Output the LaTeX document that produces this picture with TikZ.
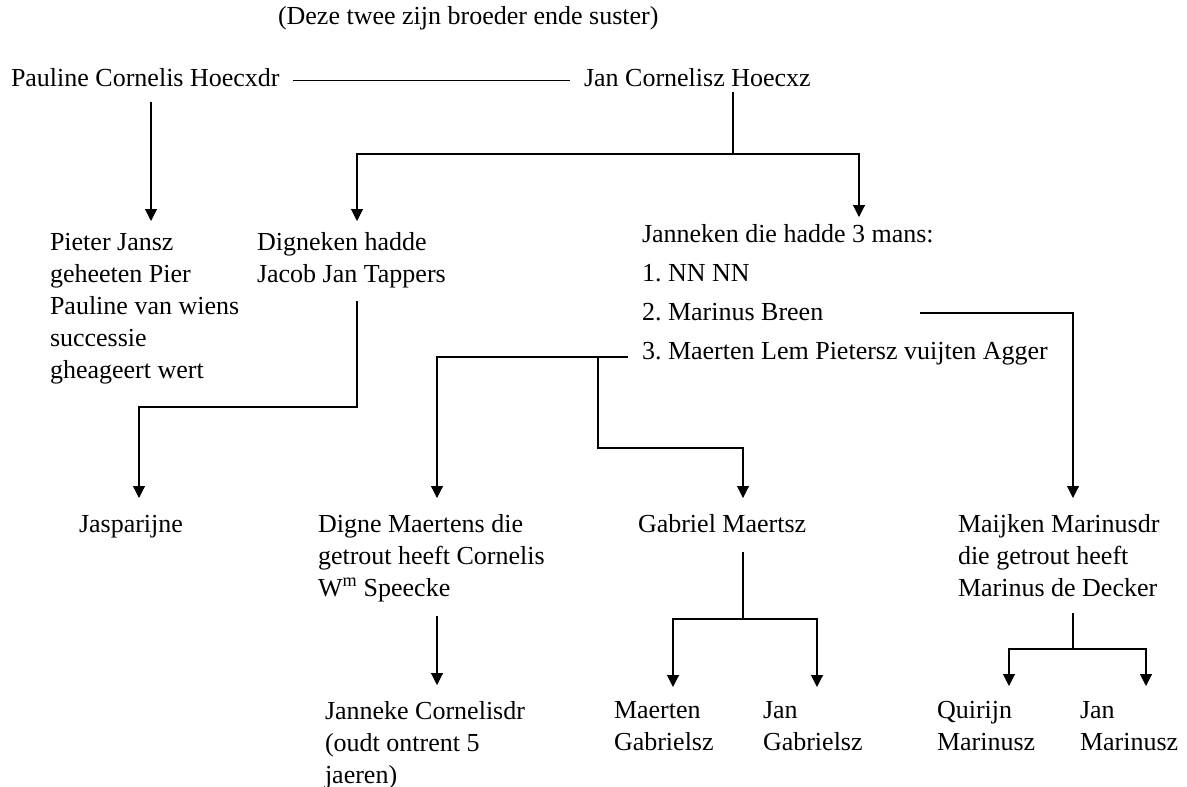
\documentclass[tikz,border=0pt]{standalone}
\usepackage{fontspec}
\setmainfont{Liberation Serif}
\usetikzlibrary{arrows.meta,calc}
\newcommand{\lns}[1]{\begin{tabular}[t]{@{}l@{}}#1\end{tabular}}
\frenchspacing
\tikzset{
  txt/.style={inner sep=0pt, outer sep=0pt, anchor=base west, font=\fontsize{26}{32}\selectfont\frenchspacing},
  ln/.style={line width=1.1pt, black},
  arr/.style={ln, -{Triangle[width=12pt,length=12pt]}},
}
\begin{document}
\begin{tikzpicture}[x=1pt,y=-1pt]
\fill[white] (0,0) rectangle (1187,787);
\useasboundingbox (0,0) rectangle (1187,787);
% nodes
\node[txt] (title) at (278,24) {\lns{(Deze twee zijn broeder ende suster)}};
\node[txt] (pauline) at (11,86) {\lns{Pauline Cornelis Hoecxdr}};
\node[txt] (jan) at (584,86) {\lns{Jan Cornelisz Hoecxz}};
\node[txt] (pieter) at (50,250) {\lns{Pieter Jansz\\geheeten Pier\\Pauline van wiens\\successie\\gheageert wert}};
\node[txt] (digneken) at (257,250) {\lns{Digneken hadde\\Jacob Jan Tappers}};
\node[txt] (janneken) at (642,242) {\lns{Janneken die hadde 3 mans:\\[7.3pt]1. NN NN\\[7.3pt]2. Marinus Breen\\[7.3pt]3. Maerten Lem Pietersz vuijten Agger}};
\node[txt] (jasp) at (79,532) {\lns{Jasparijne}};
\node[txt] (digne) at (318,532) {\lns{Digne Maertens die\\getrout heeft Cornelis\\W\textsuperscript{m} Speecke}};
\node[txt] (gabriel) at (638,532) {\lns{Gabriel Maertsz}};
\node[txt] (maijken) at (958,532) {\lns{Maijken Marinusdr\\die getrout heeft\\Marinus de Decker}};
\node[txt] (janneke) at (325,719) {\lns{Janneke Cornelisdr\\(oudt ontrent 5\\jaeren)}};
\node[txt] (maerten) at (614,718) {\lns{Maerten\\Gabrielsz}};
\node[txt] (jang) at (763,718) {\lns{Jan\\Gabrielsz}};
\node[txt] (quirijn) at (937,718) {\lns{Quirijn\\Marinusz}};
\node[txt] (janm) at (1080,718) {\lns{Jan\\Marinusz}};
% helper coordinates
\coordinate (xPa) at (151,0);
\coordinate (jb) at (733,154);
\coordinate (xDk) at (357,0);
\coordinate (xJk) at (859,0);
\coordinate (dkb) at (357,407);
\coordinate (xJa) at (139,0);
\coordinate (xMk) at (1073,0);
\coordinate (xDg) at (437,0);
\coordinate (br) at (598,357);
\coordinate (brb) at (598,448);
\coordinate (xGa) at (743,0);
\coordinate (gj) at (743,619);
\coordinate (xMa) at (673,0);
\coordinate (xJg) at (817,0);
\coordinate (mj) at (1073,649);
\coordinate (xQu) at (1009,0);
\coordinate (xJm) at (1146,0);
% connectors
\draw[ln] ($(pauline.east)+(13,0.6)$) -- ($(jan.west)+(-14,0.6)$);
\draw[arr] ($(pauline.south -| xPa)+(0,6)$) -- ($(pieter.north -| xPa)+(0,-6.6)$);
\draw[ln] ($(jan.south -| jb)+(0,-4)$) -- (jb);
\draw[arr] (jb) -| ($(digneken.north -| xDk)+(0,-6.6)$);
\draw[arr] (jb) -| ($(janneken.north -| xJk)+(0,-2.6)$);
\draw[arr] ($(digneken.south -| xDk)+(0,9.4)$) -- (dkb) -| ($(jasp.north -| xJa)+(0,-11.6)$);
\draw[arr] ($(janneken.north west)+(278,93.4)$) -| ($(maijken.north -| xMk)+(0,-11.6)$);
\draw[arr] ($(janneken.north west)+(-14,137.4)$) -| ($(digne.north -| xDg)+(0,-11.6)$);
\draw[arr] (br) -- (brb) -| ($(gabriel.north -| xGa)+(0,-11.6)$);
\draw[arr] ($(digne.south -| xDg)+(0,10.4)$) -- ($(janneke.north -| xDg)+(0,-11.6)$);
\draw[ln] ($(gabriel.south -| gj)+(0,10.4)$) -- (gj);
\draw[arr] (gj) -| ($(maerten.north -| xMa)+(0,-8.6)$);
\draw[arr] (gj) -| ($(jang.north -| xJg)+(0,-8.6)$);
\draw[ln] ($(maijken.south -| mj)+(0,7.4)$) -- (mj);
\draw[arr] (mj) -| ($(quirijn.north -| xQu)+(0,-9.6)$);
\draw[arr] (mj) -| ($(janm.north -| xJm)+(0,-9.6)$);
\end{tikzpicture}
\end{document}
